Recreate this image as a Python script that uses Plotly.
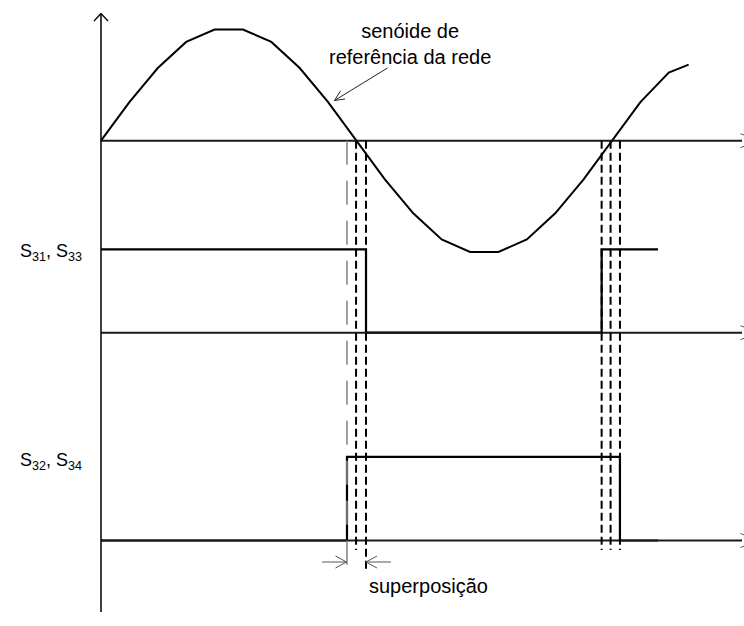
import plotly.graph_objects as go

# ---------------- data ----------------
# reference sine of the grid, sampled every 20 electrical degrees
sine_deg = [0, 20, 40, 60, 80, 100, 120, 140, 160, 180, 200, 220, 240, 260, 280,
            300, 320, 340, 360, 380, 400, 414]
sine_val = [0.00, 0.34, 0.64, 0.87, 0.98, 0.98, 0.87, 0.64, 0.34, 0.00, -0.34,
            -0.64, -0.87, -0.98, -0.98, -0.87, -0.64, -0.34, 0.00, 0.34, 0.60, 0.67]

# gate signals (switching angles in degrees, logic level after each instant)
s31_deg = [0, 186.7, 352.7, 392.4]
s31_lvl = [1, 0, 1, 1]
s32_deg = [0, 173.3, 365.6, 392.4]
s32_lvl = [0, 1, 0, 0]

# vertical guide lines (degrees)
guide_black_deg = [179.7, 186.7, 352.7, 359.0, 365.6]
guide_gray_deg = [173.3]
baseline_end_deg = 451.6

row_labels = ["S<sub>31</sub>, S<sub>33</sub>", "S<sub>32</sub>, S<sub>34</sub>"]
sine_label = "senóide de<br>referência da rede"
overlap_label = "superposição"

# ---------------- layout constants (pixels) ----------------
W, H = 744, 626
X0 = 101.0                  # pixel of 0 degrees (vertical axis)
KX = 255.5 / 180.0          # pixels per degree
SINE_ZERO, SINE_AMP = 140.7, 113.5
S31_LOW, S31_HIGH = 332.7, 249.3
S32_LOW, S32_HIGH = 540.5, 456.8
FONT = "Liberation Sans, Arial, sans-serif"


def yrange(zero_px, one_px):
    unit = zero_px - one_px
    return [-(H - zero_px) / unit, zero_px / unit]


def px(x):
    return x / W


def py(y):
    return 1 - y / H


fig = go.Figure()
fig.add_trace(go.Scatter(x=sine_deg, y=sine_val, mode="lines",
                         line=dict(color="black", width=2), yaxis="y",
                         hoverinfo="skip", showlegend=False))
fig.add_trace(go.Scatter(x=s31_deg, y=s31_lvl, mode="lines", line_shape="hv",
                         line=dict(color="black", width=2.2), yaxis="y2",
                         hoverinfo="skip", showlegend=False))
fig.add_trace(go.Scatter(x=s32_deg, y=s32_lvl, mode="lines", line_shape="hv",
                         line=dict(color="black", width=2.2), yaxis="y3",
                         hoverinfo="skip", showlegend=False))

shapes = []
# baselines of the three rows
for yref in ["y", "y2", "y3"]:
    shapes.append(dict(type="line", xref="x", yref=yref, x0=0, x1=baseline_end_deg,
                       y0=0, y1=0, line=dict(color="#1a1a1a", width=2)))
# clipped arrow heads at the right edge
for yb in [SINE_ZERO, S31_LOW, S32_LOW]:
    for s in (-1, 1):
        shapes.append(dict(type="line", xref="paper", yref="paper",
                           x0=px(740.5), y0=py(yb + s * 7), x1=px(752), y1=py(yb + s * 2.5),
                           line=dict(color="#555555", width=1)))

# vertical axis with open arrow head
shapes.append(dict(type="line", xref="paper", yref="paper", x0=px(X0), x1=px(X0),
                   y0=py(13.5), y1=py(612), line=dict(color="black", width=1.5)))
for dx in (-7, 7):
    shapes.append(dict(type="line", xref="paper", yref="paper", x0=px(X0), y0=py(13.5),
                       x1=px(X0 + dx), y1=py(21), line=dict(color="black", width=1.3)))

# dashed guide lines
for d in guide_black_deg:
    y_end = 570 if abs(d - 186.7) < 0.01 else 550
    shapes.append(dict(type="line", xref="x", yref="paper", x0=d, x1=d,
                       y0=py(SINE_ZERO), y1=py(y_end),
                       line=dict(color="black", width=2, dash="8px,4px")))
for d in guide_gray_deg:
    shapes.append(dict(type="line", xref="x", yref="paper", x0=d, x1=d,
                       y0=py(SINE_ZERO), y1=py(568),
                       line=dict(color="#8a8a8a", width=1.6, dash="24px,16px")))

# "superposição" arrows
ya = 562
for x_tail, x_tip in [(322, 346.5), (391, 366)]:
    s = 1 if x_tip > x_tail else -1
    shapes.append(dict(type="line", xref="paper", yref="paper", x0=px(x_tail), x1=px(x_tip),
                       y0=py(ya), y1=py(ya), line=dict(color="#555555", width=1)))
    for dy in (-6, 6):
        shapes.append(dict(type="line", xref="paper", yref="paper", x0=px(x_tip), y0=py(ya),
                           x1=px(x_tip - s * 11), y1=py(ya + dy),
                           line=dict(color="#555555", width=1)))

# arrow pointing to the sine
tip = (334.5, 100.5)
tail = (387.5, 68.0)
shapes.append(dict(type="line", xref="paper", yref="paper", x0=px(tail[0]), y0=py(tail[1]),
                   x1=px(tip[0]), y1=py(tip[1]), line=dict(color="#222222", width=1)))
for wx, wy in [(340.5, 90.8), (345.0, 99.0)]:
    shapes.append(dict(type="line", xref="paper", yref="paper", x0=px(tip[0]), y0=py(tip[1]),
                       x1=px(wx), y1=py(wy), line=dict(color="#222222", width=1)))

annotations = [
    dict(x=px(410), y=py(43.5), xref="paper", yref="paper", text=sine_label,
         showarrow=False, font=dict(family=FONT, size=20, color="black"),
         xanchor="center", yanchor="middle", align="center"),
    dict(x=px(428), y=py(586), xref="paper", yref="paper", text=overlap_label,
         showarrow=False, font=dict(family=FONT, size=20, color="black"),
         xanchor="center", yanchor="middle"),
]
for lab, yl in zip(row_labels, [S31_HIGH + 3, S32_HIGH + 5]):
    annotations.append(dict(x=px(84), y=py(yl), xref="paper", yref="paper", text=lab,
                            showarrow=False, font=dict(family=FONT, size=18, color="black"),
                            xanchor="right", yanchor="middle"))

hidden = dict(visible=False, showgrid=False, zeroline=False, fixedrange=True)
fig.update_layout(
    width=W, height=H, margin=dict(l=0, r=0, t=0, b=0),
    paper_bgcolor="white", plot_bgcolor="white", showlegend=False,
    xaxis=dict(range=[-X0 / KX, (W - X0) / KX], domain=[0, 1], **hidden),
    yaxis=dict(range=yrange(SINE_ZERO, SINE_ZERO - SINE_AMP), domain=[0, 1], **hidden),
    yaxis2=dict(range=yrange(S31_LOW, S31_HIGH), overlaying="y", **hidden),
    yaxis3=dict(range=yrange(S32_LOW, S32_HIGH), overlaying="y", **hidden),
    shapes=shapes, annotations=annotations,
)

fig.write_html("out.html", config={"displayModeBar": False},
               post_script="document.body.style.margin='0';document.body.style.overflow='hidden';")
